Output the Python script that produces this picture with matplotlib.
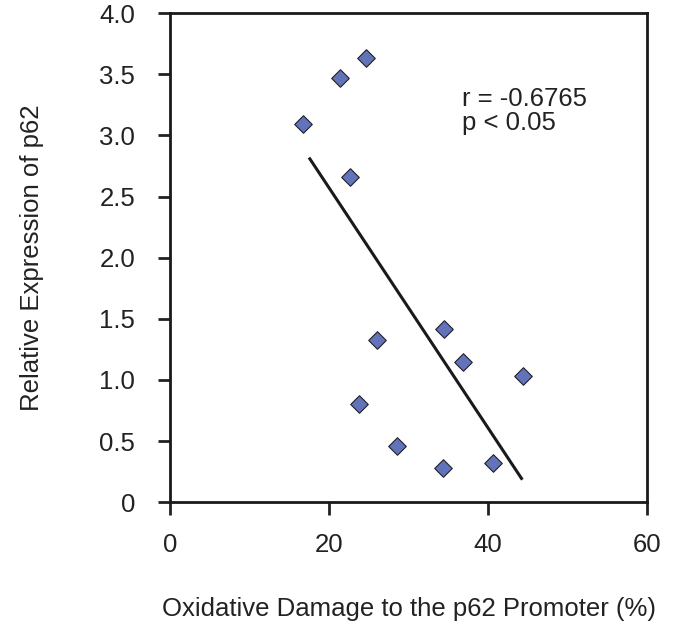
import matplotlib
matplotlib.use("Agg")
import matplotlib.pyplot as plt
import numpy as np

plt.rcParams.update({
    "font.family": ["Liberation Sans", "DejaVu Sans"],
    "font.size": 18.5,
    "axes.linewidth": 2.0,
    "xtick.direction": "out",
    "ytick.direction": "out",
})

# oxidative damage (%) vs relative p62 expression
damage = [24.6, 21.4, 16.7, 22.6, 34.5, 26.0, 36.9, 23.8, 28.5, 34.3, 44.4, 40.6]
expression = [3.63, 3.47, 3.09, 2.66, 1.42, 1.33, 1.15, 0.80, 0.46, 0.28, 1.03, 0.32]
fit_range = [17.6, 44.2]

xticks = [0, 20, 40, 60]
xticklabels = ["0", "20", "40", "60"]
yticks = [0, 0.5, 1.0, 1.5, 2.0, 2.5, 3.0, 3.5, 4.0]
yticklabels = ["0", "0.5", "1.0", "1.5", "2.0", "2.5", "3.0", "3.5", "4.0"]

fig = plt.figure(figsize=(6.82, 6.27), dpi=100)
ax = fig.add_axes([0.249, 0.199, 0.700, 0.780])

ax.scatter(damage, expression, marker="D", s=80, color="#6373B9",
           edgecolor="#222222", linewidth=0.8, zorder=3)

slope, intercept = np.polyfit(damage, expression, 1)
fx = np.array(fit_range)
ax.plot(fx, slope * fx + intercept, color="#1a1a1a", linewidth=2.2, zorder=2)

ax.text(36.7, 3.40, "r = -0.6765\np < 0.05", va="top", ha="left",
        linespacing=1.0, color="#222222")

ax.set_xlim(0, 60)
ax.set_ylim(0, 4.0)
ax.set_xticks(xticks)
ax.set_xticklabels(xticklabels)
ax.set_yticks(yticks)
ax.set_yticklabels(yticklabels)
ax.tick_params(length=9, width=2.0, pad=13, colors="#222222")
ax.tick_params(axis="y", pad=16)
for s in ax.spines.values():
    s.set_color("#1a1a1a")

ax.set_xlabel("Oxidative Damage to the p62 Promoter (%)", labelpad=29,
              color="#222222")
ax.set_ylabel("Relative Expression of p62", labelpad=40, color="#222222")

fig.savefig("out.png", dpi=100)
